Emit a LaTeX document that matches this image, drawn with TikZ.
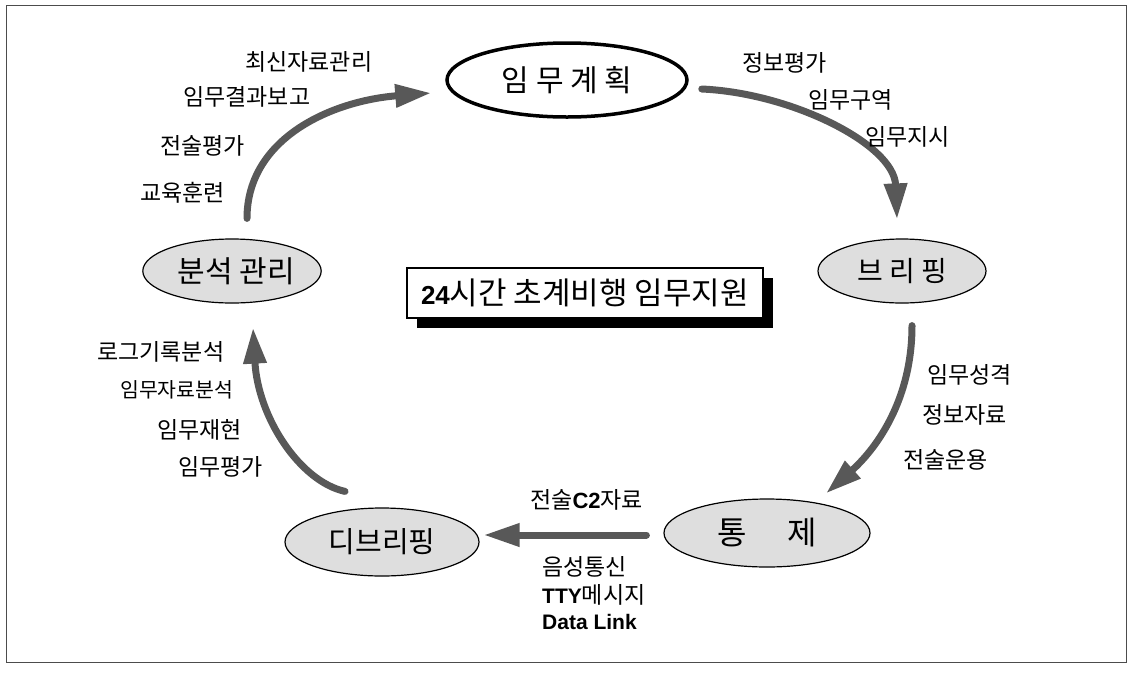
\documentclass[tikz,border=0pt]{standalone}
\usepackage{fontspec}
\setmainfont{Noto Sans CJK KR}
\newfontfamily\arialfont{Liberation Sans}
\usetikzlibrary{arrows.meta,calc,shapes.geometric,shadows,positioning}
\definecolor{flowgray}{RGB}{88,88,88}
\definecolor{stagefill}{RGB}{222,222,222}
\newcommand{\latinb}[2][21]{{\arialfont\bfseries\fontsize{#1}{#1}\selectfont #2}}

\begin{document}
\begin{tikzpicture}[x=1pt,y=-1pt,
  stage/.style={ellipse,draw,line width=1.2pt,fill=stagefill,inner sep=0pt,font=\fontsize{29}{32}\selectfont},
  flow/.style={draw=flowgray,line width=7pt,line cap=round,-{Triangle[length=36pt,width=22pt]}},
  lbl/.style={anchor=west,inner sep=0pt,font=\fontsize{23}{26}\selectfont}]
  \useasboundingbox (0,0) rectangle (1133,678);
  \draw[line width=1pt,black!70] (6,5) rectangle (1126,662);

  \node[stage,line width=3.5pt,fill=white,minimum width=240pt,minimum height=74pt,font=\fontsize{30}{34}\selectfont] (plan) at (567,80) {임 무 계 획};
  \node[stage,minimum width=168pt,minimum height=64pt,font=\fontsize{28}{31}\selectfont] (brief) at (902,271) {브 리 핑};
  \node[stage,minimum width=206pt,minimum height=68pt,font=\fontsize{32}{36}\selectfont] (ctrl) at (767,533) {통\hspace{40pt}제};
  \node[stage,minimum width=194pt,minimum height=68pt] (debrief) at (382,542) {디브리핑};
  \node[stage,minimum width=166pt,minimum height=64pt,font=\fontsize{30}{33}\selectfont] (anal) at (232,271) {\hspace{9pt}분석 관리\hspace{-9pt}};
  \node[draw,line width=1.2pt,fill=white,minimum width=356pt,minimum height=50pt,inner sep=0pt,
    drop shadow={shadow xshift=10pt,shadow yshift=-10pt,fill=black,opacity=1},
    font=\fontsize{31}{34}\selectfont] (title) at (585,293) {\latinb[26]{24}시간 초계비행 임무지원};

  \coordinate (f1s) at ($(anal.north)+(15,-20)$);
  \coordinate (f1e) at ($(plan.west)+(-14,13)$);
  \coordinate (f2s) at ($(plan.east)+(13,9)$);
  \coordinate (f2e) at ($(brief.north)+(-5,-19)$);
  \coordinate (f3s) at ($(brief.south)+(10,22)$);
  \coordinate (f3e) at ($(ctrl.north)+(59,-5)$);
  \coordinate (f4s) at ($(ctrl.west)+(-17,2)$);
  \coordinate (f4e) at ($(debrief.east)+(4,-7)$);
  \coordinate (f5s) at ($(debrief.north)+(-37,-16)$);
  \coordinate (f5e) at ($(anal.south)+(21,24)$);
  \draw[flow] (f1s) .. controls +(0,-80) and +(-100,8) .. (f1e);
  \draw[flow] (f2s) .. controls +(90,4) and +(-3,-75) .. (f2e);
  \draw[flow] (f3s) .. controls +(0,80) and +(45,-40) .. (f3e);
  \draw[flow] (f4s) -- (f4e);
  \draw[flow] (f5s) .. controls +(-45,-10) and +(5,90) .. (f5e);

  \node[lbl] (newdata) at (245,62) {최신자료관리};
  \node[lbl] (report) at (183,97) {임무결과보고};
  \node[lbl] (tacteval) at (160,146) {전술평가};
  \node[lbl] (training) at (140,193) {교육훈련};
  \node[lbl] (infoeval) at (742,63) {정보평가};
  \node[lbl] (area) at (808,100) {임무구역};
  \node[lbl] (order) at (865,137) {임무지시};
  \node[lbl] (nature) at (927,375) {임무성격};
  \node[lbl] (intel) at (922,415) {정보자료};
  \node[lbl] (tactops) at (903,460) {전술운용};
  \node[lbl] (ctwo) at (530,500) {전술\latinb[22]{C2}자료};
  \node[lbl] (voice) at (542,567) {음성통신};
  \node[lbl] (tty) at (542,595) {\latinb{TTY}메시지};
  \node[lbl] (dlink) at (542,622) {\latinb{Data Link}};
  \node[lbl] (logs) at (97,352) {로그기록분석};
  \node[lbl,font=\fontsize{20.5}{23}\selectfont] (missdata) at (120,390) {임무자료분석};
  \node[lbl] (replay) at (157,430) {임무재현};
  \node[lbl] (misseval) at (178,467) {임무평가};
\end{tikzpicture}
\end{document}
